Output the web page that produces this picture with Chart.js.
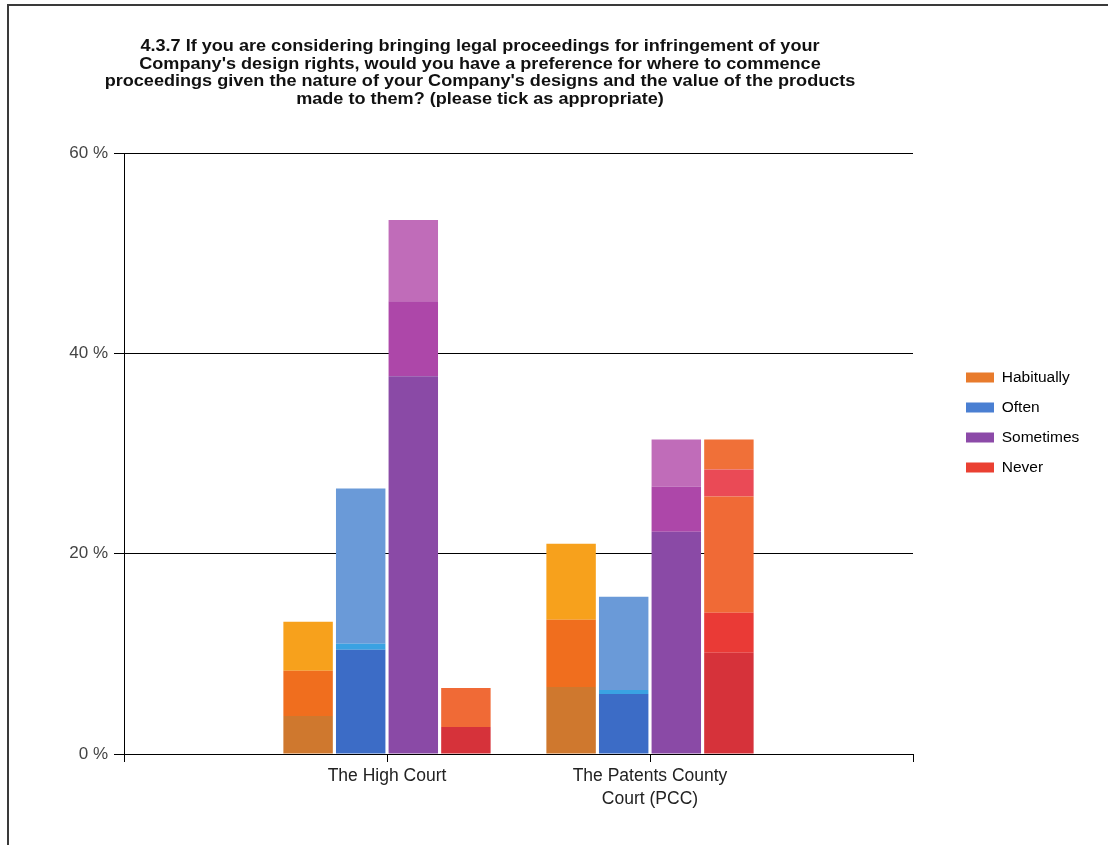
<!DOCTYPE html>
<html>
<head>
<meta charset="utf-8">
<script src="https://cdn.jsdelivr.net/npm/chart.js@4.4.1/dist/chart.umd.min.js"></script>
<style>
  html, body { margin: 0; padding: 0; background: #fff; }
  #wrap { position: absolute; left: 0; top: 0; width: 1108px; height: 845px; }
  #frame { position: absolute; left: 7px; top: 4px; width: 1101px; height: 841px;
           border-left: 2px solid #3a3a3a; border-top: 2px solid #3a3a3a; pointer-events: none; }
</style>
</head>
<body>
<div id="wrap"><canvas id="chart"></canvas></div>
<div id="frame"></div>
<script>
// Survey question 4.3.7 - percentages per court, one bar per answer
const titleLines = [
  '4.3.7 If you are considering bringing legal proceedings for infringement of your',
  'Company\'s design rights, would you have a preference for where to commence',
  'proceedings given the nature of your Company\'s designs and the value of the products',
  'made to them? (please tick as appropriate)'
];
// empty labels at both ends keep the two courts at 1/3 and 2/3 of the axis
const categories = ['', 'The High Court', ['The Patents County', 'Court (PCC)'], ''];
const seriesNames = ['Habitually', 'Often', 'Sometimes', 'Never'];
const legendColours = ['#e87b2c', '#4a7fd2', '#8c4aa8', '#ea4032'];

// every bar is shaded in bands, listed bottom to top as [High Court, PCC]
const habituallyBands = [[3.8, 6.7], [4.5, 6.7], [4.9, 7.6]];
const oftenBands = [[10.4, 6.0], [0.6, 0.4], [15.5, 9.3]];
const sometimesBands = [[37.7, 22.2], [7.5, 4.5], [8.1, 4.7]];
const neverBands = [[2.7, 10.1], [0, 4.0], [3.9, 11.6], [0, 2.7], [0, 3.0]];

const habituallyShades = ['#cf782e', '#f06e1e', '#f7a11c'];
const oftenShades = ['#3c6cc6', '#3aa2e2', '#6a9ad8'];
const sometimesShades = ['#8a4aa6', '#ad47a9', '#c06cb9'];
const neverShades = ['#d6323a', '#ea3a36', '#f06a36', '#ea4a56', '#f07038'];

const yTicks = [0, 20, 40, 60];
const fontFamily = '"Liberation Sans", Arial, sans-serif';

const bandSets = [habituallyBands, oftenBands, sometimesBands, neverBands];
const shadeSets = [habituallyShades, oftenShades, sometimesShades, neverShades];

const datasets = [];
seriesNames.forEach((name, s) => {
  bandSets[s].forEach((band, b) => {
    datasets.push({
      label: name,
      stack: name,
      yAxisID: 'y',
      data: [null, band[0], band[1], null],
      backgroundColor: shadeSets[s][b],
      borderWidth: 0,
      barPercentage: 0.94,
      categoryPercentage: 0.8
    });
  });
});

// title text is wide and short in the original, so it is drawn slightly stretched
const titlePlugin = {
  id: 'questionTitle',
  afterDraw(chart) {
    const ctx = chart.ctx;
    ctx.save();
    ctx.font = 'bold 16px ' + fontFamily;
    ctx.fillStyle = '#111';
    ctx.textAlign = 'center';
    ctx.textBaseline = 'middle';
    titleLines.forEach((line, i) => {
      ctx.save();
      ctx.translate(480, 47 + i * 17.5);
      ctx.scale(1.13, 1);
      ctx.fillText(line, 0, 0);
      ctx.restore();
    });
    ctx.restore();
  }
};

new Chart(document.getElementById('chart'), {
  type: 'bar',
  data: {labels: categories, datasets: datasets},
  options: {
    responsive: true,
    maintainAspectRatio: false,
    animation: false,
    layout: {padding: 0},
    plugins: {
      title: {display: false},
      tooltip: {enabled: false},
      legend: {
        position: 'right',
        labels: {
          boxWidth: 28,
          boxHeight: 10,
          padding: 14.5,
          color: '#222',
          font: {family: fontFamily, size: 15.5},
          generateLabels: () => seriesNames.map((name, i) => ({
            text: name,
            fillStyle: legendColours[i],
            strokeStyle: legendColours[i],
            lineWidth: 0,
            hidden: false,
            datasetIndex: i
          }))
        }
      }
    },
    scales: {
      x: {
        stacked: true,
        offset: false,
        grid: {drawOnChartArea: false, offset: false, color: '#000', tickLength: 8},
        border: {color: '#000'},
        ticks: {
          color: '#222',
          font: {family: fontFamily, size: 17.5, lineHeight: 1.3},
          padding: 3,
          maxRotation: 0,
          autoSkip: false
        },
        afterFit: (scale) => {
          scale.height = 91;
          scale.paddingLeft = 0;
          scale.paddingRight = 195;
        }
      },
      y: {
        stacked: true,
        min: 0,
        max: 60,
        afterBuildTicks: (scale) => { scale.ticks = yTicks.map(v => ({value: v})); },
        grid: {color: '#000', tickLength: 10},
        border: {color: '#000'},
        ticks: {
          color: '#444',
          font: {family: fontFamily, size: 17},
          padding: 6,
          callback: (v) => v + ' %'
        },
        afterFit: (scale) => {
          scale.width = 124;
          scale.paddingTop = 153;
        }
      },
      // blank spacer between the plot and the legend
      gap: {
        type: 'linear',
        position: 'right',
        grid: {display: false},
        border: {display: false},
        ticks: {display: false},
        afterFit: (scale) => { scale.width = 38.5; }
      }
    }
  },
  plugins: [titlePlugin]
});
</script>
</body>
</html>
